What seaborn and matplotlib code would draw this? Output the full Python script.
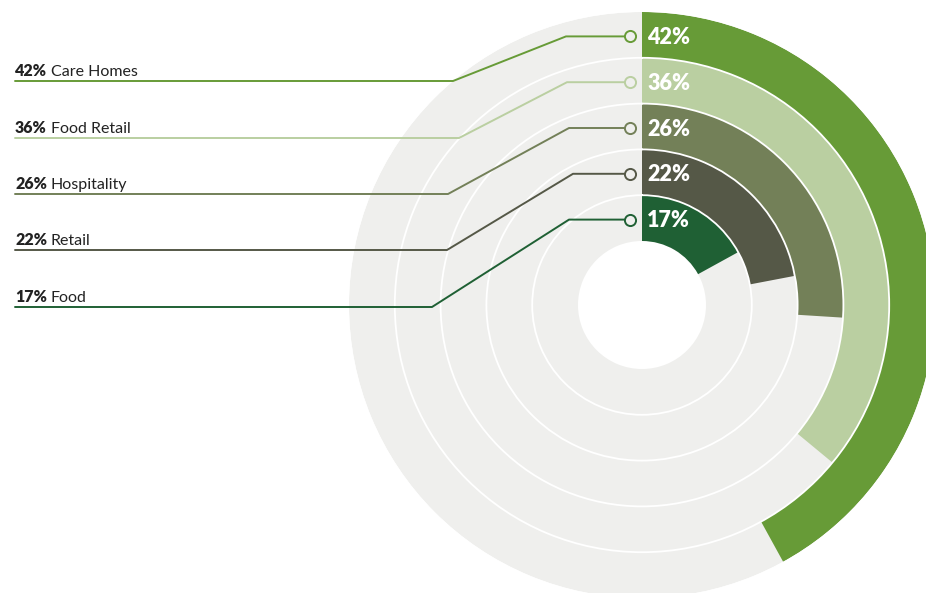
import numpy as np
import matplotlib
matplotlib.use("Agg")
import matplotlib.pyplot as plt
import seaborn as sns

# Share of businesses by sector (percent)
categories = ["Care Homes", "Food Retail", "Hospitality", "Retail", "Food"]
shares = [42, 36, 26, 22, 17]
colors = ["#679b37", "#bacfa1", "#738058", "#555847", "#1f6034"]

# Label row heights (pixels from top) and leader-line bend points
label_rows = [81, 138, 194, 250, 307]
elbow_x = [566, 567, 569, 573, 569]
joint_x = [453, 459, 448, 447, 432]

GRAY = "#efefed"
TEXT = "#222222"

sns.set_theme(style="white")
plt.rcParams["font.family"] = ["Lato", "DejaVu Sans"]

W, H = 926, 593
fig = plt.figure(figsize=(W / 100, H / 100), dpi=100)
fig.patch.set_facecolor("white")

# Radial layout in pixel-like radius units
R_OUT, HOLE, n = 293, 64, len(categories)
ring_w = (R_OUT - HOLE) / n
cx, cy = 642, 305

ax = fig.add_axes([(cx - R_OUT) / W, (H - cy - R_OUT) / H, 2 * R_OUT / W, 2 * R_OUT / H],
                  projection="polar")
ax.set_theta_zero_location("N")
ax.set_theta_direction(-1)
ax.set_ylim(0, R_OUT)
ax.set_facecolor("none")

inner = HOLE + ring_w * np.arange(n)[::-1]  # outermost ring first
theta_span = np.radians(np.array(shares) * 3.6)

# Full grey track for every ring, then the coloured share on top
ax.bar(np.full(n, np.pi), ring_w, width=2 * np.pi, bottom=inner, color=GRAY, linewidth=0)
ax.bar(theta_span / 2, ring_w, width=theta_span, bottom=inner, color=colors, linewidth=0)

# Thin white separators between rings
ax.set_rgrids(HOLE + ring_w * np.arange(1, n))
ax.set_yticklabels([])
ax.set_xticks([])
ax.grid(True, axis="y", color="white", linewidth=1.3)
ax.set_axisbelow(False)
ax.spines["polar"].set_visible(False)

# Overlay in pixel coordinates for leaders and labels
ov = fig.add_axes([0, 0, 1, 1], facecolor="none")
ov.set_xlim(0, W)
ov.set_ylim(H, 0)
ov.axis("off")

fig.canvas.draw()
renderer = fig.canvas.get_renderer()
inv = ov.transData.inverted()

for i, (cat, val, col) in enumerate(zip(categories, shares, colors)):
    r_mid = inner[i] + ring_w / 2
    px, py = inv.transform(ax.transData.transform((0, r_mid)))
    py += 1.5
    mx = px - 12
    ly = label_rows[i]
    ov.plot([mx - 4, elbow_x[i], joint_x[i], 15], [py, py, ly, ly],
            color=col, linewidth=1.4, solid_joinstyle="round", zorder=3)
    ov.plot([mx], [py], marker="o", markersize=8, markerfacecolor=GRAY,
            markeredgecolor=col, markeredgewidth=1.4, zorder=4)

    # value inside the bar
    ov.text(px + 5, py + 1, f"{val}%", color="white", fontsize=15.5, fontweight="heavy",
            ha="left", va="center", zorder=5)

    # left label: bold value followed by regular category name
    t = ov.text(15, ly - 5, f"{val}%", color=TEXT, fontsize=11.5, fontweight="heavy",
                ha="left", va="baseline", zorder=5)
    bb = t.get_window_extent(renderer=renderer)
    x_end = inv.transform((bb.x1, bb.y0))[0]
    ov.text(x_end + 4, ly - 5, cat, color=TEXT, fontsize=11.5,
            ha="left", va="baseline", zorder=5)

fig.savefig("out.png", dpi=100, facecolor="white")
